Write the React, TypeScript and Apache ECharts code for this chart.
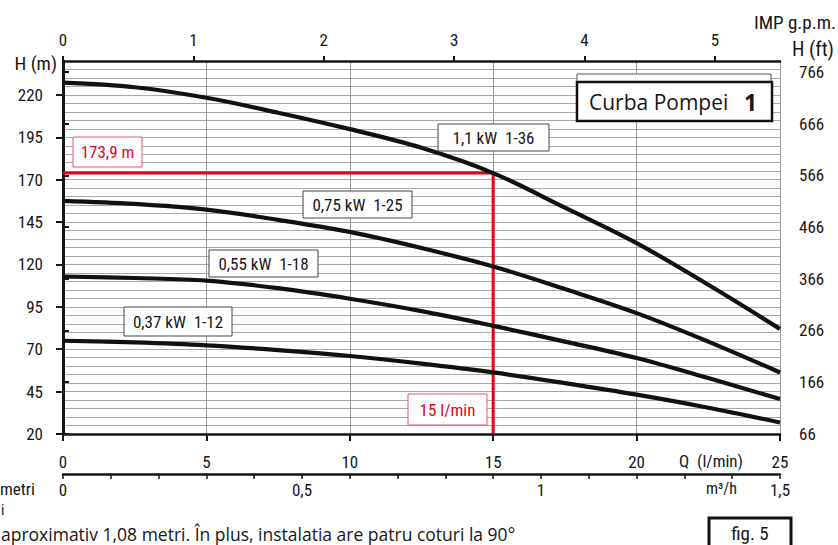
import React, { useEffect, useRef } from 'react';
import * as echarts from 'echarts';

// ---- data ----
const Q_LMIN = [0, 2.5, 5, 7.5, 10, 12.5, 15, 17.5, 20, 22.5, 25];
const H_1_36 = [227.2, 224.5, 218.3, 209.5, 199.8, 188.8, 173.9, 153.5, 132.6, 108, 82];
const H_1_25 = [157.5, 155.7, 152.3, 146.3, 139.2, 129.7, 118.8, 105.5, 91.3, 74.5, 56.3];
const H_1_18 = [112.9, 112, 110.5, 106, 99.8, 92.5, 83.8, 74.5, 64.8, 53, 40.6];
const H_1_12 = [75, 74, 72.3, 69.5, 66, 61.5, 56.3, 50, 43.2, 35.5, 26.8];
const CURVE_NAMES = ['1,1 kW  1-36', '0,75 kW  1-25', '0,55 kW  1-18', '0,37 kW  1-12'];

const H_M_TICKS = [20, 45, 70, 95, 120, 145, 170, 195, 220];
const H_FT_TICKS = [66, 166, 266, 366, 466, 566, 666, 766];
const IMP_TICKS = [0, 1, 2, 3, 4, 5];
const M3H_LABELS = [0, 0.5, 1, 1.5];

const DUTY_Q = 15;
const DUTY_H = 173.9;
const DUTY_H_LABEL = '173,9 m';
const DUTY_Q_LABEL = '15 l/min';

const H_MIN = 20;
const H_MAX = 240;
const Q_MAX = 25;
const FT_PER_M = 3.28084;
const LMIN_PER_IMPGPM = 4.54609;
const LMIN_PER_M3H = 1000 / 60;

const NARROW = '"Liberation Sans Narrow", "Roboto Condensed", Roboto, sans-serif';
const SANS = '"Open Sans", "Noto Sans", sans-serif';
const INK = '#161616';
const RED = '#e2001a';

function labelBox(x: number, y: number, w: number, h: number, text: string, color: string, border: string, font: string) {
  return [
    { type: 'rect', z: 100, shape: { x, y, width: w, height: h }, style: { fill: '#fff', stroke: border, lineWidth: 1 } },
    { type: 'text', z: 101, style: { text, x: x + w / 2, y: y + h / 2, textAlign: 'center', textVerticalAlign: 'middle', font, fill: color } },
  ];
}

export default function App() {
  const ref = useRef<HTMLDivElement>(null);
  useEffect(() => {
    if (!ref.current) return;
    const chart = echarts.init(ref.current, null, { renderer: 'svg' });
    const pairs = (arr: number[]) => Q_LMIN.map((q, i) => [q, arr[i]]);
    const curves = [H_1_36, H_1_25, H_1_18, H_1_12];
    const labelFont = '17px ' + NARROW;

    const option: any = {
      animation: false,
      backgroundColor: '#fff',
      grid: { left: 63, right: 58, top: 61, bottom: 111, containLabel: false },
      xAxis: [
        {
          type: 'value', position: 'bottom', min: 0, max: Q_MAX, interval: 5,
          axisLine: { show: true, lineStyle: { color: INK, width: 2.5 } },
          axisTick: { show: true, length: 7, lineStyle: { color: INK, width: 2 } },
          axisLabel: { margin: 19, color: INK, fontSize: 17, fontFamily: NARROW },
          splitLine: { show: true, lineStyle: { color: '#9a9a9a', width: 1 } },
        },
        {
          type: 'value', position: 'top', min: 0, max: Q_MAX / LMIN_PER_IMPGPM,
          axisLine: { show: true, lineStyle: { color: INK, width: 2.5 } },
          axisTick: { show: true, length: 5, customValues: IMP_TICKS, lineStyle: { color: INK, width: 2 } },
          axisLabel: { margin: 13, color: INK, fontSize: 17, fontFamily: NARROW, customValues: IMP_TICKS, formatter: (v: number) => String(v) },
          splitLine: { show: false },
        },
        {
          type: 'value', position: 'bottom', offset: 40, min: 0, max: Q_MAX / LMIN_PER_M3H, interval: 0.1,
          axisLine: { show: true, lineStyle: { color: INK, width: 2.5 } },
          axisTick: { show: true, length: 5, lineStyle: { color: INK, width: 1.5 } },
          axisLabel: {
            margin: 7, color: INK, fontSize: 17, fontFamily: NARROW,
            formatter: (v: number) => (M3H_LABELS.some((m) => Math.abs(m - v) < 1e-6) ? String(Math.round(v * 10) / 10).replace('.', ',') : ''),
          },
          splitLine: { show: false },
        },
      ],
      yAxis: [
        {
          type: 'value', position: 'left', min: H_MIN, max: H_MAX, interval: 5,
          axisLine: { show: false }, axisTick: { show: false }, axisLabel: { show: false },
          splitLine: { show: true, lineStyle: { color: '#a8a8a8', width: 1.2 } },
        },
        {
          type: 'value', position: 'right', min: H_MIN * FT_PER_M, max: H_MAX * FT_PER_M,
          axisLine: { show: true, lineStyle: { color: INK, width: 2.5 } },
          axisTick: { show: true, length: 6, customValues: H_FT_TICKS, lineStyle: { color: INK, width: 2 } },
          axisLabel: { margin: 19, color: INK, fontSize: 17, fontFamily: NARROW, customValues: H_FT_TICKS, formatter: (v: number) => String(v) },
          splitLine: { show: false },
        },
        {
          type: 'value', position: 'left', min: H_MIN, max: H_MAX,
          axisLine: { show: true, lineStyle: { color: INK, width: 3 } },
          axisTick: { show: true, length: 7, customValues: H_M_TICKS, lineStyle: { color: INK, width: 2 } },
          axisLabel: { margin: 20, color: INK, fontSize: 17, fontFamily: NARROW, customValues: H_M_TICKS, formatter: (v: number) => String(v) },
          splitLine: { show: false },
        },
      ],
      series: [
        {
          type: 'line', xAxisIndex: 0, yAxisIndex: 0, showSymbol: false, silent: true, z: 3,
          data: [[0, DUTY_H], [DUTY_Q, DUTY_H], [DUTY_Q, H_MIN]],
          lineStyle: { color: RED, width: 3 },
        },
        ...curves.map((c, i) => ({
          name: CURVE_NAMES[i], type: 'line', xAxisIndex: 0, yAxisIndex: 0, smooth: 0.35, showSymbol: false, silent: true, z: 4,
          data: pairs(c), lineStyle: { color: '#111', width: 4.2 },
        })),
      ],
      graphic: [
        // axis names
        { type: 'text', z: 100, style: { text: 'H (m)', x: 57, y: 63, textAlign: 'right', textVerticalAlign: 'middle', font: '19px ' + NARROW, fill: INK } },
        { type: 'text', z: 100, style: { text: 'IMP g.p.m.', x: 836, y: 22, textAlign: 'right', textVerticalAlign: 'middle', font: '19px ' + NARROW, fill: INK } },
        { type: 'text', z: 100, style: { text: 'H (ft)', x: 834, y: 49, textAlign: 'right', textVerticalAlign: 'middle', font: '20px ' + NARROW, fill: INK } },
        { type: 'text', z: 100, style: { text: 'Q  (l/min)', x: 743, y: 461, textAlign: 'right', textVerticalAlign: 'middle', font: '17px ' + NARROW, fill: INK } },
        { type: 'text', z: 100, style: { text: 'm³/h', x: 737, y: 488, textAlign: 'right', textVerticalAlign: 'middle', font: '16px ' + NARROW, fill: INK } },
        // curve labels
        ...labelBox(438, 124, 111, 27, CURVE_NAMES[0], INK, '#444', labelFont),
        ...labelBox(303, 191, 109, 27, CURVE_NAMES[1], INK, '#444', labelFont),
        ...labelBox(209, 250, 109, 27, CURVE_NAMES[2], INK, '#444', labelFont),
        ...labelBox(124, 307, 108, 29, CURVE_NAMES[3], INK, '#444', labelFont),
        // duty point labels
        ...labelBox(73, 137, 69, 30, DUTY_H_LABEL, RED, '#e8566a', labelFont),
        ...labelBox(408, 394, 79, 31, DUTY_Q_LABEL, RED, '#e8566a', labelFont),
        // title box
        { type: 'rect', z: 100, shape: { x: 577, y: 74, width: 194, height: 44 }, style: { fill: '#fff', stroke: '#555', lineWidth: 1 } },
        { type: 'rect', z: 101, shape: { x: 577, y: 82, width: 195, height: 39 }, style: { fill: '#fff', stroke: '#111', lineWidth: 2.5 } },
        { type: 'text', z: 102, style: { text: 'Curba Pompei', x: 589, y: 102, textAlign: 'left', textVerticalAlign: 'middle', font: '21px ' + SANS, fill: INK } },
        { type: 'text', z: 102, style: { text: '1', x: 744, y: 102, textAlign: 'left', textVerticalAlign: 'middle', font: 'bold 23px ' + SANS, fill: INK } },
        // fig. 5 box
        { type: 'rect', z: 100, shape: { x: 709, y: 518, width: 82, height: 40 }, style: { fill: '#fff', stroke: '#111', lineWidth: 3 } },
        { type: 'text', z: 101, style: { text: 'fig. 5', x: 750, y: 533, textAlign: 'center', textVerticalAlign: 'middle', font: '19px ' + NARROW, fill: INK } },
        // surrounding page text fragments
        { type: 'text', z: 100, style: { text: 'metri', x: 0, y: 489, textAlign: 'left', textVerticalAlign: 'middle', font: '17px ' + NARROW, fill: INK } },
        { type: 'text', z: 100, style: { text: 'i', x: 1, y: 510, textAlign: 'left', textVerticalAlign: 'middle', font: '15px ' + NARROW, fill: INK } },
        { type: 'text', z: 100, style: { text: 'aproximativ 1,08 metri. În plus, instalatia are patru coturi la 90°', x: 1, y: 534, textAlign: 'left', textVerticalAlign: 'middle', font: '17.5px ' + SANS, fill: INK } },
      ],
    };
    chart.setOption(option);
    return () => chart.dispose();
  }, []);
  return <div ref={ref} style={{ position: 'fixed', left: 0, top: 0, width: 838, height: 545, background: '#fff' }} />;
}
